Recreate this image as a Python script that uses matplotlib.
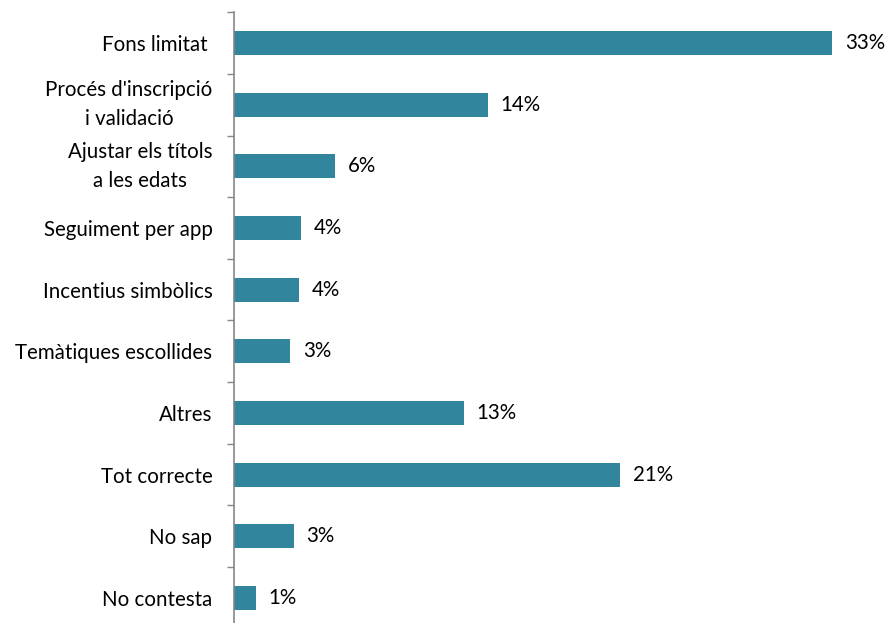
import numpy as np
import matplotlib.pyplot as plt

# categories (top to bottom) and shares in percent
categories = ["Fons limitat ", "Procés d'inscripció\ni validació", "Ajustar els títols\na les edats",
              "Seguiment per app", "Incentius simbòlics", "Temàtiques escollides",
              "Altres", "Tot correcte", "No sap", "No contesta"]
values = [33.0, 14.0, 5.6, 3.7, 3.6, 3.1, 12.7, 21.3, 3.3, 1.2]

plt.rcParams['font.family'] = ['Lato', 'DejaVu Sans']

fig = plt.figure(figsize=(8.86, 6.23), dpi=100)
ax = fig.add_axes([234/886, (623-628.8)/623, (870-234)/886, 616.6/623])

y = np.arange(len(categories))
ax.barh(y, values, height=0.39, color="#31859C")
ax.set_ylim(len(categories) - 0.5, -0.5)
ax.set_xlim(0, 33.0 * (870 - 234) / 598)

for yi, v in zip(y, values):
    ax.text(v + 0.7, yi, f"{v:.0f}%", va="center", ha="left", fontsize=14.8)

ax.set_yticks(y)
ax.set_yticklabels(categories, fontsize=14.8, linespacing=1.6)
ax.tick_params(axis="y", which="major", length=0, pad=15.5)
ax.set_yticks(np.arange(len(categories) + 1) - 0.5, minor=True)
ax.tick_params(axis="y", which="minor", length=5, color="#868686", width=1)
for lbl in ax.get_yticklabels():
    lbl.set_horizontalalignment("right")
    lbl.set_multialignment("center")
    if "\n" in lbl.get_text():
        lbl.set_verticalalignment("center")
ax.set_xticks([])
for s in ["top", "right", "bottom"]:
    ax.spines[s].set_visible(False)
ax.spines["left"].set_color("#868686")
ax.spines["left"].set_linewidth(1.2)

fig.savefig("out.png", dpi=100)
